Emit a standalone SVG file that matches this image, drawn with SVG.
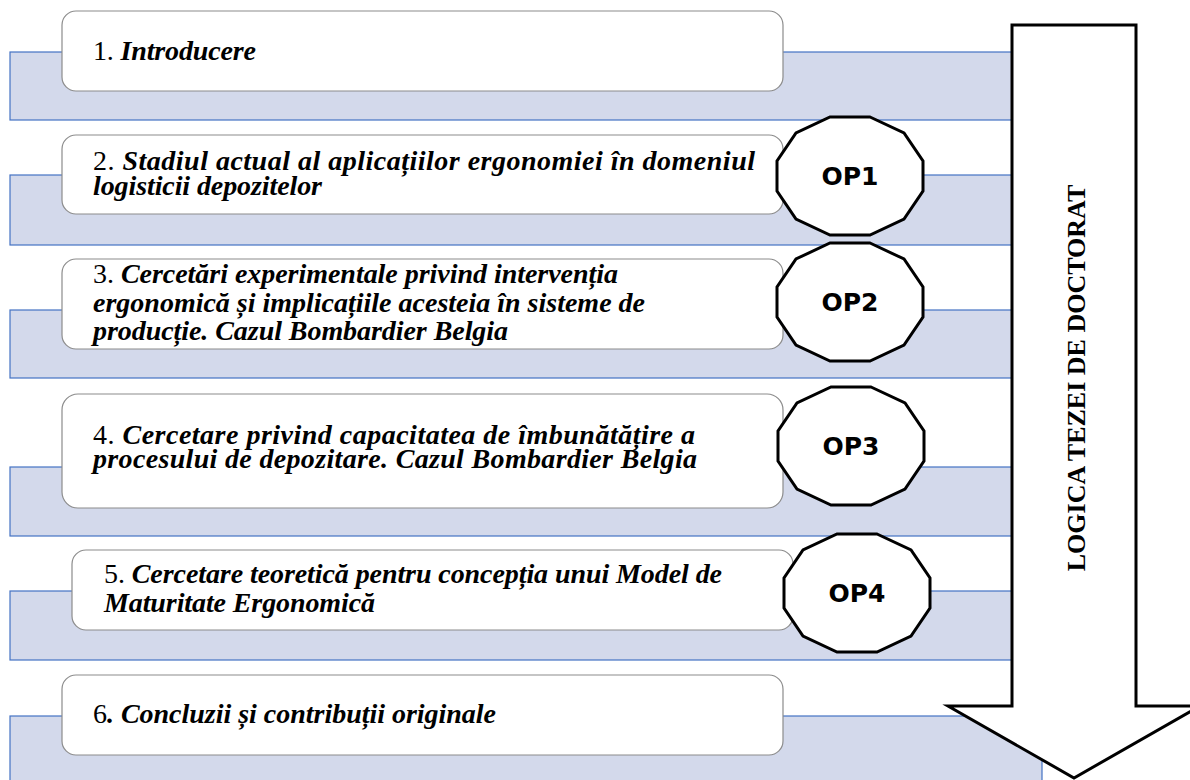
<svg xmlns="http://www.w3.org/2000/svg" width="1190" height="780" viewBox="0 0 1190 780">
<style>
.band{fill:#D3D9EB;stroke:#4472C4;stroke-width:1.2}
.box{fill:#FFFFFF;stroke:#8C8C8C;stroke-width:1.2}
.t{font-family:"Liberation Serif","Times New Roman",serif;font-size:28px;fill:#000}
.bi{font-weight:bold;font-style:italic}
.op{fill:#FFFFFF;stroke:#000;stroke-width:3;stroke-linejoin:miter}
.opt{font-family:"DejaVu Sans",Verdana,sans-serif;font-weight:bold;font-size:25px;fill:#000;text-anchor:middle}
.arrow{fill:#FFFFFF;stroke:#000;stroke-width:3;stroke-linejoin:miter}
.at{font-family:"Liberation Serif","Times New Roman",serif;font-weight:bold;font-size:26px;fill:#000;text-anchor:middle}
</style>
<defs>
<polygon id="dodec" points="20,-59 54,-43 73,-15 73,15 54,43 20,59 -20,59 -54,43 -73,15 -73,-15 -54,-43 -20,-59"/>
</defs>
<rect width="1190" height="780" fill="#FFFFFF"/>
<g id="bands">
<rect class="band" x="10" y="52" width="1032" height="68"/>
<rect class="band" x="10" y="175" width="1032" height="70"/>
<rect class="band" x="10" y="310" width="1032" height="68"/>
<rect class="band" x="10" y="467" width="1032" height="69"/>
<rect class="band" x="10" y="591" width="1032" height="69"/>
<rect class="band" x="10" y="716" width="1032" height="70"/>
</g>
<g id="node1">
<rect class="box" x="62" y="11" width="721" height="80" rx="14"/>
<text class="t" x="93" y="60" textLength="163">1. <tspan class="bi">Introducere</tspan></text>
</g>
<g id="node2">
<rect class="box" x="62" y="135" width="721" height="79" rx="14"/>
<text class="t" x="93" y="170" textLength="662">2. <tspan class="bi">Stadiul actual al aplicațiilor ergonomiei în domeniul</tspan></text>
<text class="t bi" x="93" y="195" textLength="229">logisticii depozitelor</text>
</g>
<g id="node3">
<rect class="box" x="62" y="259" width="721" height="90" rx="14"/>
<text class="t" x="93" y="283" textLength="525">3. <tspan class="bi">Cercetări experimentale privind intervenția</tspan></text>
<text class="t bi" x="93" y="312" textLength="552">ergonomică și implicațiile acesteia în sisteme de</text>
<text class="t bi" x="93" y="340" textLength="415">producție. Cazul Bombardier Belgia</text>
</g>
<g id="node4">
<rect class="box" x="62" y="394" width="721" height="114" rx="16"/>
<text class="t" x="93" y="444" textLength="602">4. <tspan class="bi">Cercetare privind capacitatea de îmbunătățire a</tspan></text>
<text class="t bi" x="93" y="468" textLength="604">procesului de depozitare. Cazul Bombardier Belgia</text>
</g>
<g id="node5">
<rect class="box" x="72" y="550" width="721" height="80" rx="14"/>
<text class="t" x="104" y="583" textLength="618">5. <tspan class="bi">Cercetare teoretică pentru concepția unui Model de</tspan></text>
<text class="t bi" x="104" y="612" textLength="271">Maturitate Ergonomică</text>
</g>
<g id="node6">
<rect class="box" x="62" y="675" width="721" height="80" rx="14"/>
<text class="t" x="93" y="723" textLength="403">6<tspan class="bi">. Concluzii și contribuții originale</tspan></text>
</g>
<g id="op1">
<use href="#dodec" class="op" transform="translate(850,176)"/>
<text class="opt" x="850" y="185">OP1</text>
</g>
<g id="op2">
<use href="#dodec" class="op" transform="translate(850,302)"/>
<text class="opt" x="850" y="311">OP2</text>
</g>
<g id="op3">
<use href="#dodec" class="op" transform="translate(851,446)"/>
<text class="opt" x="851" y="455">OP3</text>
</g>
<g id="op4">
<use href="#dodec" class="op" transform="translate(857,593)"/>
<text class="opt" x="857" y="602">OP4</text>
</g>
<g id="connectors">
<polygon class="arrow" points="1012,25 1136,25 1136,706 1200,706 1074,778 948,706 1012,706"/>
<text class="at" transform="translate(1085,378) rotate(-90)">LOGICA TEZEI DE DOCTORAT</text>
</g>
</svg>
